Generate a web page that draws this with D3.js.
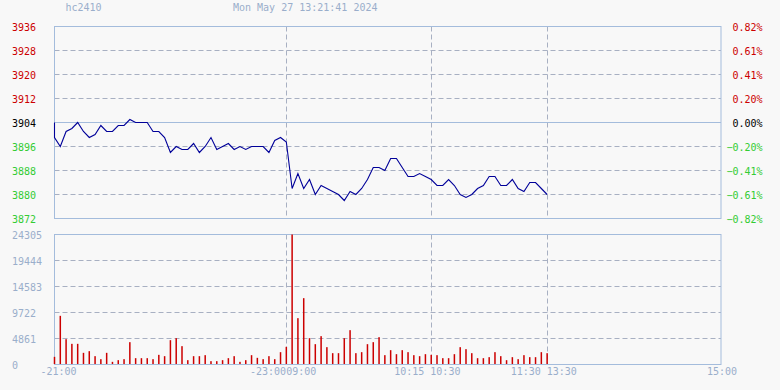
<!DOCTYPE html>
<html>
<head>
<meta charset="utf-8">
<script src="https://cdn.jsdelivr.net/npm/d3@7"></script>
<style>
html,body{margin:0;padding:0;background:#f8f8f8;}
svg{display:block;}
text{font-family:"DejaVu Sans Mono",monospace;font-size:10px;}
</style>
</head>
<body>
<svg id="chart" width="780" height="390"></svg>
<script>
// ---- data ----
const symbol = "hc2410";
const stamp = "Mon May 27 13:21:41 2024";
const prevClose = 3904;
const sessions = [["21:00","23:00"],["09:00","10:15"],["10:30","11:30"],["13:30","15:00"]];
const priceTicks = [3872,3880,3888,3896,3904,3912,3920,3928,3936];
const volumeTicks = [0,4861,9722,14583,19444,24305];
const prices = [
 3899,3896,3901,3902,3904,3901,3899,3900,3903,3901,
 3901,3903,3903,3905,3904,3904,3904,3901,3901,3899,
 3894,3896,3895,3895,3897,3894,3896,3899,3895,3896,
 3897,3895,3896,3895,3896,3896,3896,3894,3898,3899,
 3897.5,3882,3887,3882,3885,3880,3883,3882,3881,3880,
 3878,3881,3880,3882,3885,3889,3889,3888,3892,3892,
 3889,3886,3886,3887,3886,3885,3883,3883,3885,3883,
 3880,3879,3880,3882,3883,3886,3886,3883,3883,3885,
 3882,3881,3884,3884,3882,3880
];
const volumes = [
 1433,9099,4736,3864,3864,2181,2493,1558,997,2181,
 499,810,997,4175,1184,1184,1184,997,1807,1558,
 4549,4923,3428,810,1558,1558,1745,623,623,810,
 1184,1558,499,810,1745,1246,997,1558,997,2306,
 3303,24305,8663,12402,4923,3801,5297,3241,2119,2119,
 4923,6419,2119,2306,3801,4175,5110,1745,2680,1932,
 2680,2306,1745,1558,1932,1807,1745,1184,1184,1932,
 3241,2867,2119,1184,1184,1371,2306,1558,810,1371,
 997,1745,1371,1371,2306,2119
];

// ---- helpers ----
function toMin(s){const [h,m]=s.split(":").map(Number);return h*60+m;}
const sessLen = sessions.map(s=>{let d=toMin(s[1])-toMin(s[0]);return d;});
const totalMin = d3.sum(sessLen);
const bounds = [0]; sessLen.forEach(l=>bounds.push(bounds[bounds.length-1]+l));
// trading-minute for each 3-minute sample (categories)
const sampleMin = prices.map((_,i)=>i*3);

const svg = d3.select("#chart");
const L = 54.5, R = 721;
const x = d3.scaleLinear().domain([0,totalMin]).range([L,R]);
const yP = d3.scaleLinear().domain([3872,3936]).range([218.5,26.5]);
const yV = d3.scaleLinear().domain([0,24305]).range([364.5,234.5]);

const frameC = "#a4bcdc", gridC = "#a8b0c2", textC = "#9aaecb";
const red = "#cc0000", green = "#33cc33", lineC = "#000099";

// title
svg.append("text").attr("x",65.5).attr("y",11).attr("fill",textC).text(symbol);
svg.append("text").attr("x",233).attr("y",11).attr("fill",textC).text(stamp);

function panel(y0,y1,scale,ticks){
  const g = svg.append("g");
  // horizontal dashed grid
  ticks.forEach(t=>{
    const yy = Math.round(scale(t)-0.5)+0.5;
    if (yy<=Math.min(y0,y1)+0.1 || yy>=Math.max(y0,y1)-0.1) return;
    g.append("line").attr("x1",L).attr("x2",R).attr("y1",yy).attr("y2",yy)
      .attr("stroke",gridC).attr("stroke-dasharray","5,3");
  });
  // vertical dashed session lines
  bounds.slice(1,-1).forEach(b=>{
    const xx = Math.round(x(b)-0.5)+0.5;
    g.append("line").attr("x1",xx).attr("x2",xx).attr("y1",Math.min(y0,y1)).attr("y2",Math.max(y0,y1))
      .attr("stroke",gridC).attr("stroke-dasharray","5,3");
  });
  return g;
}

// price panel
const pg = panel(26.5,218.5,yP,priceTicks);
pg.append("line").attr("x1",L).attr("x2",R).attr("y1",yP(prevClose)).attr("y2",yP(prevClose)).attr("stroke",frameC);
pg.append("rect").attr("x",L).attr("y",26.5).attr("width",R-L).attr("height",192)
  .attr("fill","none").attr("stroke",frameC);

// price axis labels
priceTicks.forEach(t=>{
  const c = t>prevClose?red:(t<prevClose?green:"#000");
  svg.append("text").attr("x",12).attr("y",yP(t)+4).attr("fill",c).text(t);
  const pct = (t-prevClose)/prevClose*100;
  svg.append("text").attr("x",762.5).attr("y",yP(t)+4).attr("text-anchor","end")
    .attr("fill",c).text(d3.format(".2f")(pct)+"%");
});

// price line
const lineData = [[0,prevClose]].concat(prices.map((p,i)=>[sampleMin[i],p]));
svg.append("path").datum(lineData)
  .attr("d",d3.line().x(d=>x(d[0])).y(d=>yP(d[1])))
  .attr("fill","none").attr("stroke",lineC).attr("stroke-width",1.1);

// volume panel
const vg = panel(234.5,364.5,yV,volumeTicks);
vg.append("rect").attr("x",L).attr("y",234.5).attr("width",R-L).attr("height",130)
  .attr("fill","none").attr("stroke",frameC);
volumeTicks.forEach(t=>{
  svg.append("text").attr("x",12).attr("y",yV(t)+4).attr("fill",textC).text(t);
});
svg.append("g").selectAll("rect").data(volumes).join("rect")
  .attr("x",(d,i)=>x(sampleMin[i])-0.75)
  .attr("width",1.5)
  .attr("y",d=>yV(d))
  .attr("height",d=>yV(0)-yV(d)-0.5)
  .attr("fill",red);

// time labels
const xl = svg.append("g").attr("fill",textC);
xl.append("text").attr("x",x(bounds[0])-14).attr("y",375).text("-"+sessions[0][0]);
xl.append("text").attr("x",x(bounds[1])-36.3).attr("y",375).text("-"+sessions[0][1]+sessions[1][0]);
xl.append("text").attr("x",x(bounds[2])-37).attr("y",375).text(sessions[1][1]+" "+sessions[2][0]);
xl.append("text").attr("x",x(bounds[3])-36.5).attr("y",375).text(sessions[2][1]+" "+sessions[3][0]);
xl.append("text").attr("x",x(bounds[4])+1).attr("y",375).attr("text-anchor","middle").text(sessions[3][1]);
</script>
</body>
</html>
